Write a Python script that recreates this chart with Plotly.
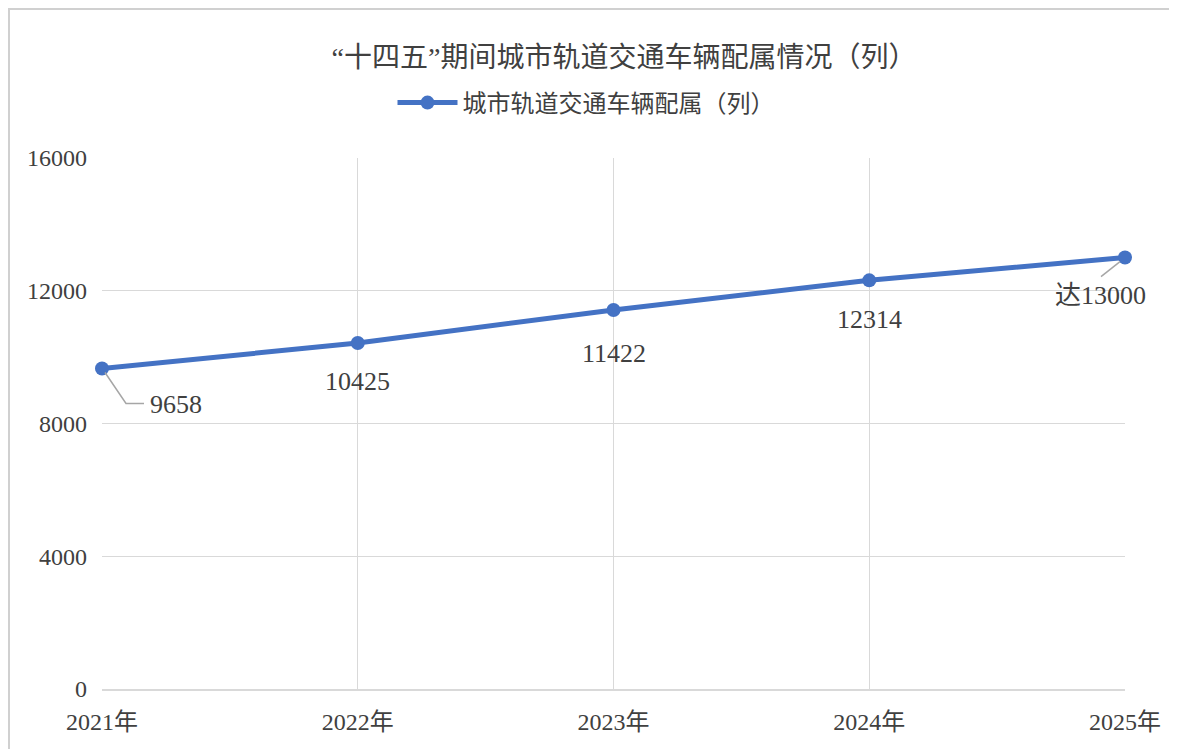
import plotly.graph_objects as go

years = ["2021年", "2022年", "2023年", "2024年", "2025年"]
values = [9658, 10425, 11422, 12314, 13000]
labels = ["9658", "10425", "11422", "12314", "达13000"]
y_ticks = [0, 4000, 8000, 12000, 16000]

title_text = "“十四五”期间城市轨道交通车辆配属情况（列）"
series_name = "城市轨道交通车辆配属（列）"

FONT = "Liberation Serif, Times New Roman, Noto Sans CJK SC, serif"
TXT = "#404040"
BLUE = "#4472C4"

W, H = 1169, 741
L, R, T, B = 94, 52, 150, 60
PW, PH = W - L - R, H - T - B


def px_x(X):
    return (X - L) / PW


def px_y(Y):
    return (H - B - Y) / PH


fig = go.Figure()
fig.add_trace(go.Scatter(
    x=years, y=values, mode="lines+markers", name=series_name,
    line=dict(color=BLUE, width=5),
    marker=dict(color=BLUE, size=14),
    cliponaxis=False,
))

offsets = {1: 38, 2: 44, 3: 39}
for i, (yr, v, lab) in enumerate(zip(years, values, labels)):
    if i == 0:
        fig.add_annotation(x=yr, y=v, text=lab, showarrow=False,
                           xanchor="left", yanchor="middle", xshift=46, yshift=-36,
                           font=dict(family=FONT, size=26, color=TXT))
        fig.add_shape(type="path", xref="x", yref="y", xsizemode="pixel", ysizemode="pixel",
                      xanchor=yr, yanchor=v, path="M 3,-4 L 24,-35 L 42,-35",
                      line=dict(color="#A6A6A6", width=1.5))
    elif i == 4:
        fig.add_annotation(x=yr, y=v, text=lab, showarrow=False,
                           xanchor="center", yanchor="middle", xshift=-25, yshift=-38,
                           font=dict(family=FONT, size=26, color=TXT))
        fig.add_shape(type="path", xref="x", yref="y", xsizemode="pixel", ysizemode="pixel",
                      xanchor=yr, yanchor=v, path="M -5,-4 L -24,-19",
                      line=dict(color="#A6A6A6", width=1.5))
    else:
        fig.add_annotation(x=yr, y=v, text=lab, showarrow=False,
                           xanchor="center", yanchor="middle", yshift=-offsets[i],
                           font=dict(family=FONT, size=26, color=TXT))

# outer chart border
fig.add_shape(type="rect", xref="paper", yref="paper",
              x0=px_x(1), x1=px_x(1165), y0=-0.3, y1=px_y(1),
              line=dict(color="#D0D0D0", width=2), layer="below")

fig.update_layout(
    width=W, height=H,
    margin=dict(l=L, r=R, t=T, b=B),
    paper_bgcolor="white", plot_bgcolor="white",
    font=dict(family=FONT, color=TXT),
    title=dict(text=title_text, xref="paper", x=px_x(616), xanchor="center", y=1 - 49 / H,
               yanchor="middle", font=dict(family=FONT, size=28, color=TXT)),
    showlegend=True,
    legend=dict(orientation="h", x=px_x(578), xanchor="center", y=px_y(95), yanchor="middle",
                font=dict(family=FONT, size=24, color=TXT), itemwidth=60),
    xaxis=dict(type="category", range=[0, 4], showgrid=True, gridcolor="#D9D9D9", gridwidth=1,
               showline=True, linecolor="#D9D9D9", linewidth=1.5, ticks="",
               ticklabelstandoff=10,
               tickfont=dict(family=FONT, size=24, color=TXT), zeroline=False),
    yaxis=dict(range=[0, 16000], tickvals=y_ticks, ticktext=[str(t) for t in y_ticks],
               showgrid=True, gridcolor="#D9D9D9", gridwidth=1, zeroline=False,
               showline=False, ticks="", ticklabelstandoff=14,
               tickfont=dict(family=FONT, size=24, color=TXT)),
)
fig.write_html("out.html")
